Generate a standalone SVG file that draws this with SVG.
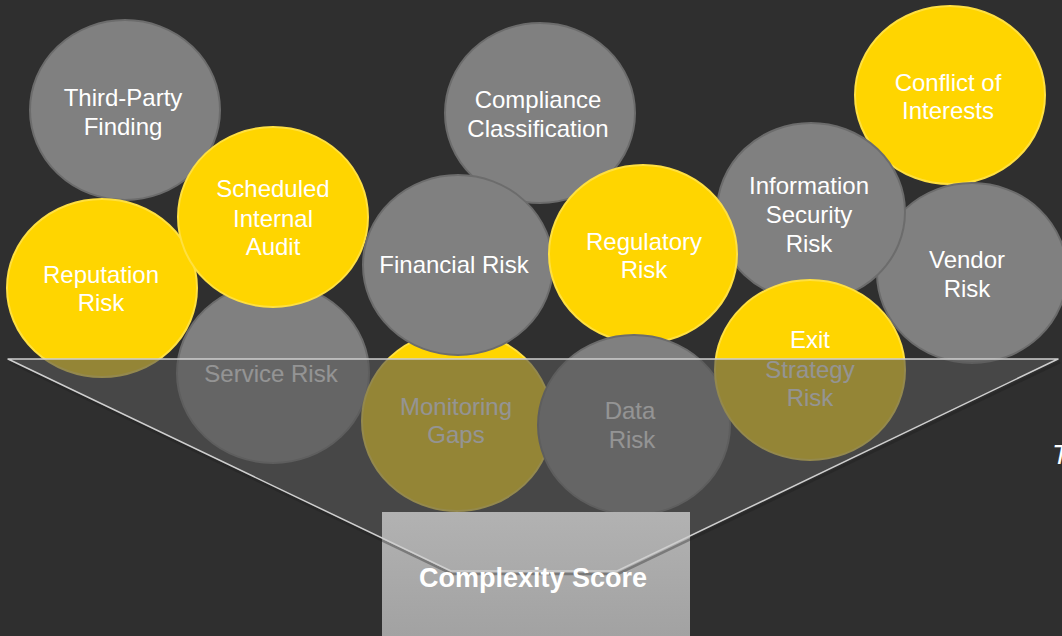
<svg xmlns="http://www.w3.org/2000/svg" width="1062" height="636" viewBox="0 0 1062 636">
<defs>
<style>
.g{fill:#808080;stroke:#6c6c6c;stroke-width:2}
.y{fill:#FFD500;stroke:#FFE040;stroke-width:2}
.t{font-family:"Liberation Sans",Arial,sans-serif;font-size:24px;fill:#FFFFFF;text-anchor:middle}
.b{font-family:"Liberation Sans",Arial,sans-serif;font-size:27px;font-weight:bold;fill:#FFFFFF;text-anchor:middle}
</style>
<linearGradient id="boxg" x1="0" y1="0" x2="0" y2="1">
<stop offset="0" stop-color="#b2b2b2"/>
<stop offset="1" stop-color="#a2a2a2"/>
</linearGradient>
</defs>
<rect x="0" y="0" width="1062" height="636" fill="#2F2F2F"/>

<g id="third-party-finding"><ellipse class="g" cx="125" cy="110" rx="95" ry="90"/><text class="t" x="123" y="106">Third-Party</text><text class="t" x="123" y="135">Finding</text></g>
<g id="compliance-classification"><ellipse class="g" cx="540" cy="113" rx="95" ry="90"/><text class="t" x="538" y="108">Compliance</text><text class="t" x="538" y="137">Classification</text></g>
<g id="conflict-of-interests"><ellipse class="y" cx="950" cy="95" rx="95" ry="89"/><text class="t" x="948" y="91">Conflict of</text><text class="t" x="948" y="119">Interests</text></g>
<g id="vendor-risk"><ellipse class="g" cx="972" cy="273" rx="95" ry="90"/><text class="t" x="967" y="268">Vendor</text><text class="t" x="967" y="297">Risk</text></g>
<g id="information-security-risk"><ellipse class="g" cx="811" cy="212" rx="94" ry="89"/><text class="t" x="809" y="194">Information</text><text class="t" x="809" y="223">Security</text><text class="t" x="809" y="252">Risk</text></g>
<g id="service-risk"><ellipse class="g" cx="273" cy="373" rx="96" ry="90"/><text class="t" x="271" y="382">Service Risk</text></g>
<g id="monitoring-gaps"><ellipse class="y" cx="457" cy="421" rx="95" ry="90"/><text class="t" x="456" y="415">Monitoring</text><text class="t" x="456" y="443">Gaps</text></g>
<g id="reputation-risk"><ellipse class="y" cx="102" cy="288" rx="95" ry="89"/><text class="t" x="101" y="283">Reputation</text><text class="t" x="101" y="311">Risk</text></g>
<g id="scheduled-internal-audit"><ellipse class="y" cx="273" cy="217" rx="95" ry="90"/><text class="t" x="273" y="197">Scheduled</text><text class="t" x="273" y="227">Internal</text><text class="t" x="273" y="255">Audit</text></g>
<g id="financial-risk"><ellipse class="g" cx="458" cy="265" rx="95" ry="90"/><text class="t" x="454" y="273">Financial Risk</text></g>
<g id="regulatory-risk"><ellipse class="y" cx="643" cy="254" rx="94" ry="89"/><text class="t" x="644" y="250">Regulatory</text><text class="t" x="644" y="278">Risk</text></g>
<g id="data-risk"><ellipse class="g" cx="634" cy="425" rx="96" ry="90"/><text class="t" x="630" y="419">Data</text><text class="t" x="632" y="448">Risk</text></g>
<g id="exit-strategy-risk"><ellipse class="y" cx="810" cy="370" rx="95" ry="90"/><text class="t" x="810" y="348">Exit</text><text class="t" x="810" y="378">Strategy</text><text class="t" x="810" y="406">Risk</text></g>

<g id="funnel">
<polygon points="8,359 1058,359 617,571 451,571" fill="#555555" fill-opacity="0.63"/>
</g>

<g id="complexity-box">
<rect x="382" y="512" width="308" height="124" fill="url(#boxg)"/>
</g>

<g id="connectors">
<polyline points="10,362 452,574 618,574 1060,362" fill="none" stroke="#1e1e1e" stroke-opacity="0.35" stroke-width="2.5"/>
<polygon points="8,359 1058,359 617,571 451,571" fill="none" stroke="#cfcfcf" stroke-width="1.5" stroke-linejoin="round"/>
</g>

<g id="complexity-score">
<text class="b" x="533" y="587">Complexity Score</text>
</g>

<text x="1052" y="464" font-family="Liberation Sans, Arial, sans-serif" font-size="28" font-style="italic" fill="#FFFFFF">T</text>
</svg>
